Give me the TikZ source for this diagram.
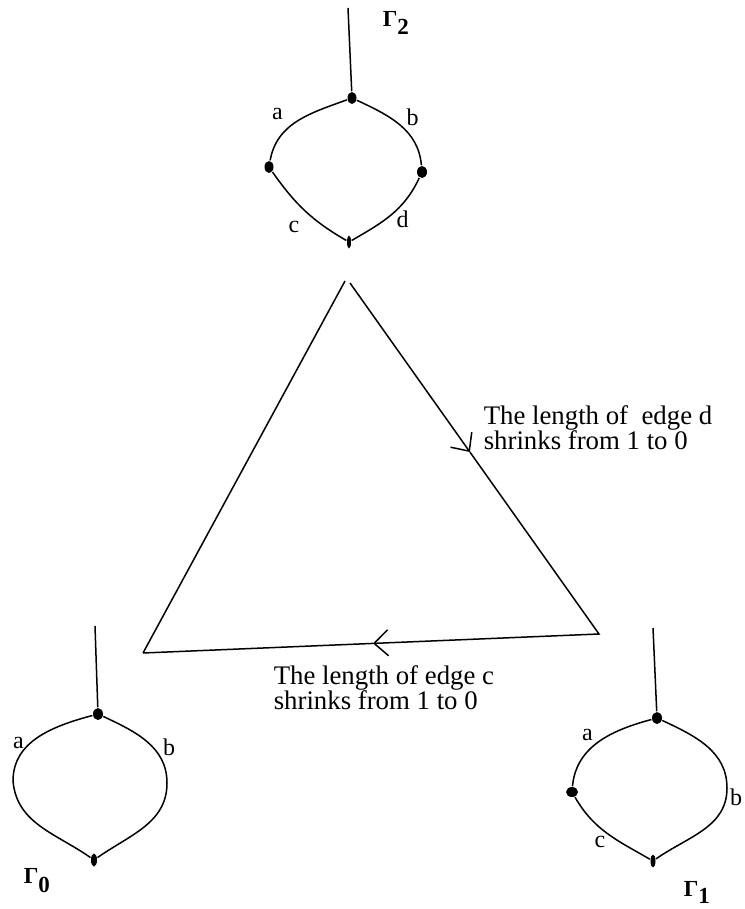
\documentclass[tikz,border=0pt]{standalone}
\usepackage{fontspec}
\setmainfont{Liberation Serif}
\usetikzlibrary{shapes.geometric, arrows.meta, calc}

\begin{document}
\begin{tikzpicture}[x=1pt, y=-1pt, line width=1.5pt,
    vtx/.style={ellipse, fill, inner sep=0pt, minimum width=9pt, minimum height=12pt},
    slim/.style={vtx, minimum width=5pt, minimum height=13pt},
    lbl/.style={font=\fontsize{24}{26}\selectfont, anchor=base, inner sep=0pt},
    gam/.style={font=\fontsize{23}{24}\selectfont\bfseries, anchor=base west, inner sep=0pt},
    txt/.style={font=\fontsize{26.8}{25}\selectfont, align=left, anchor=north west, inner sep=0pt},
    barb/.style={-{Straight Barb[length=14pt, width=26pt]}}]
  \useasboundingbox (0,0) rectangle (744,909);

  % graph Gamma_2 (top)
  \coordinate (g2s) at (348,8);
  \node[vtx] (g2t) at (352,98) {};
  \node[vtx] (g2l) at (269,167) {};
  \node[vtx, minimum width=10pt] (g2r) at (422,172) {};
  \node[slim, minimum width=4pt] (g2b) at (349,242) {};
  \draw (g2s) -- (g2t);
  \draw (g2t) to[out=200, in=80] (g2l);
  \draw (g2t) to[out=-25, in=95] (g2r);
  \draw (g2l) to[out=-55, in=150] (g2b);
  \draw (g2r) to[out=-115, in=30] (g2b);
  \node[lbl] (g2a) at (277.5,120) {a};
  \node[lbl] (g2bl) at (412.5,126) {b};
  \node[lbl] (g2c) at (294,233) {c};
  \node[lbl] (g2d) at (402.5,227) {d};
  \node[gam] (g2n) at (382,27) {Γ\raisebox{-8pt}{2}};

  % triangle
  \coordinate (tal) at (345,281);
  \coordinate (tar) at (350,283);
  \coordinate (tl) at (143,653);
  \coordinate (tr) at (599,634);
  \coordinate (md) at ($(tar)!0.4815!(tr)$);
  \coordinate (mc) at ($(tr)!0.4956!(tl)$);
  \draw (tl) -- (tal);
  \draw[barb] (tar) -- (md);
  \draw[barb] (md) -- (tr) -- (mc);
  \draw (mc) -- (tl);
  \node[txt] (lend) at (483,405) {The length of\ \ edge d\\shrinks from 1 to 0};
  \node[txt] (lenc) at (273,665) {The length of edge c\\shrinks from 1 to 0};

  % graph Gamma_0 (left)
  \coordinate (g0s) at (95,626);
  \node[vtx, minimum width=10pt] (g0t) at (98,714) {};
  \coordinate (g0w) at (13,781);
  \coordinate (g0e) at (167,783);
  \node[slim, minimum width=6pt] (g0b) at (94,860) {};
  \draw (g0s) -- (g0t);
  \draw (g0t) to[out=195, in=90] (g0w) to[out=-85, in=145] (g0b);
  \draw (g0t) to[out=-25, in=90] (g0e) to[out=-90, in=35] (g0b);
  \node[lbl] (g0a) at (18.5,748) {a};
  \node[lbl] (g0bl) at (169,755) {b};
  \node[gam] (g0n) at (23,883) {Γ\raisebox{-9pt}{0}};

  % graph Gamma_1 (right)
  \coordinate (g1s) at (653,628);
  \node[vtx, minimum width=10pt] (g1t) at (657,718) {};
  \node[vtx, minimum width=12pt, minimum height=10pt] (g1l) at (572,792) {};
  \coordinate (g1e) at (727,788);
  \node[slim] (g1b) at (653,861) {};
  \draw (g1s) -- (g1t);
  \draw (g1t) to[out=195, in=85] (g1l);
  \draw (g1l) to[out=-60, in=150] (g1b);
  \draw (g1t) to[out=-25, in=90] (g1e) to[out=-90, in=35] (g1b);
  \node[lbl] (g1a) at (587.5,740) {a};
  \node[lbl] (g1bl) at (736,805) {b};
  \node[lbl] (g1c) at (600,847) {c};
  \node[gam] (g1n) at (683,896) {Γ\raisebox{-7pt}{1}};
\end{tikzpicture}
\end{document}
